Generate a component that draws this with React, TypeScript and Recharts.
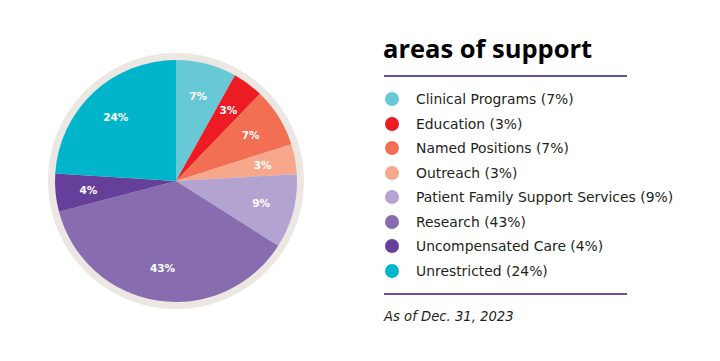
import React from 'react';
import { PieChart, Pie, Cell, Legend } from 'recharts';

// categories in drawing order, clockwise from 12 o'clock
const categories = [
  'Clinical Programs',
  'Education',
  'Named Positions',
  'Outreach',
  'Patient Family Support Services',
  'Research',
  'Uncompensated Care',
  'Unrestricted'
];

// printed percentages (labels + legend)
const labelPercents = [7, 3, 7, 3, 9, 43, 4, 24];

// slice sizes as drawn in the picture (share of the circle)
const sliceShares = [8.1, 4.1, 7.9, 4.0, 9.9, 36.9, 5.1, 24.0];

const sliceColors = ['#67c8d6', '#ed1c24', '#f26f53', '#f7a88c', '#b3a3d1', '#876db0', '#653f99', '#00b5ca'];

const pieData = categories.map((name, i) => ({ name, value: sliceShares[i], pct: labelPercents[i] }));
const ringData = [{ name: 'ring', value: 1 }];

const TITLE_FONT = '"Open Sans", "Noto Sans", sans-serif';
const FONT = '"DejaVu Sans", "Noto Sans", sans-serif';
const RADIAN = Math.PI / 180;

const renderLabel = (props: any) => {
  const { cx, cy, midAngle, index } = props;
  const r = 88;
  const x = cx + r * Math.cos(-midAngle * RADIAN);
  const y = cy + r * Math.sin(-midAngle * RADIAN);
  return (
    <text x={x} y={y} fill="#ffffff" textAnchor="middle" dominantBaseline="central"
      style={{ fontFamily: FONT, fontSize: 10.5, fontWeight: 700 }}>
      {`${labelPercents[index]}%`}
    </text>
  );
};

const LegendBox = () => (
  <div style={{ fontFamily: FONT, color: '#231f20' }}>
    <div style={{ fontFamily: TITLE_FONT, fontSize: 25.5, fontWeight: 700, lineHeight: '30px', color: '#000', marginLeft: -1 }}>
      areas of support
    </div>
    <div style={{ width: 243, height: 2, background: '#6d4fa0', marginTop: 12, marginBottom: 10 }} />
    {pieData.map((d, i) => (
      <div key={d.name} style={{ display: 'flex', alignItems: 'center', height: 24.5 }}>
        <span style={{
          width: 14, height: 14, borderRadius: 7, background: sliceColors[i],
          marginLeft: 1, marginRight: 17, flexShrink: 0
        }} />
        <span style={{ fontSize: 13.9, whiteSpace: 'nowrap' }}>{`${d.name} (${d.pct}%)`}</span>
      </div>
    ))}
    <div style={{ width: 243, height: 2, background: '#6d4fa0', marginTop: 10, marginBottom: 14 }} />
    <div style={{ fontSize: 13.2, fontStyle: 'italic' }}>As of Dec. 31, 2023</div>
  </div>
);

export default function App() {
  return (
    <div style={{ position: 'fixed', left: 0, top: 0, width: 720, height: 361, background: '#fff' }}>
      <PieChart width={720} height={361} margin={{ top: 0, right: 0, bottom: 0, left: 0 }}>
        <Pie
          data={ringData}
          dataKey="value"
          cx={176}
          cy={181}
          outerRadius={128}
          innerRadius={0}
          fill="#ede7e4"
          stroke="none"
          isAnimationActive={false}
        />
        <Pie
          data={pieData}
          dataKey="value"
          cx={176}
          cy={181}
          outerRadius={121}
          startAngle={90}
          endAngle={-270}
          stroke="none"
          labelLine={false}
          label={renderLabel}
          isAnimationActive={false}
        >
          {pieData.map((d, i) => (
            <Cell key={d.name} fill={sliceColors[i]} />
          ))}
        </Pie>
        <Legend
          content={<LegendBox />}
          layout="vertical"
          wrapperStyle={{ position: 'absolute', left: 384, top: 33, width: 320 }}
        />
      </PieChart>
    </div>
  );
}
